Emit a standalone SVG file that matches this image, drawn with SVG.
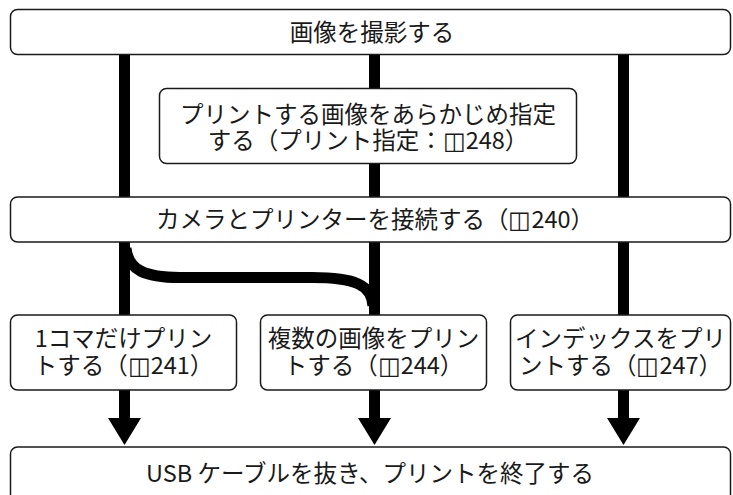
<svg xmlns="http://www.w3.org/2000/svg" width="733" height="495" viewBox="0 0 733 495">
<style>
.box{fill:#fff;stroke:#1a1a1a;stroke-width:1.5}
.bar{fill:none;stroke:#000;stroke-width:11}
.head{fill:#000}
text{font-family:"Noto Sans CJK JP","Noto Sans",sans-serif;font-size:23.5px;fill:#1a1a1a;text-anchor:middle}
</style>
<rect width="733" height="495" fill="#fff"/>
<g id="connectors">
<line class="bar" x1="124.5" y1="54" x2="124.5" y2="419"/>
<line class="bar" x1="374.5" y1="54" x2="374.5" y2="419"/>
<line class="bar" x1="623.5" y1="54" x2="623.5" y2="419"/>
<path class="bar" d="M126,248 C128,270 145,277.5 180,277.5 L312,277.5 C355,277.5 372,285 373,306"/>
<polygon class="head" points="108,418 141,418 124.5,445"/>
<polygon class="head" points="358,418 391,418 374.5,445"/>
<polygon class="head" points="607,418 640,418 623.5,445"/>
</g>
<g id="n1"><rect class="box" x="10.5" y="9.5" width="720" height="45" rx="7"/><text x="372" y="41">画像を撮影する</text></g>
<g id="n2"><rect class="box" x="159.5" y="88.5" width="417" height="75" rx="7"/><text x="368" y="123">プリントする画像をあらかじめ指定</text><text x="368" y="149">する（プリント指定：◫248）</text></g>
<g id="n3"><rect class="box" x="10.5" y="197" width="720" height="45" rx="7"/><text x="375" y="228">カメラとプリンターを接続する（◫240）</text></g>
<g id="n4"><rect class="box" x="10.5" y="315" width="226" height="75" rx="7"/><text x="123.5" y="347">1コマだけプリン</text><text x="123.5" y="374">トする（◫241）</text></g>
<g id="n5"><rect class="box" x="260.5" y="315" width="226" height="75" rx="7"/><text x="373.5" y="347">複数の画像をプリン</text><text x="373.5" y="374">トする（◫244）</text></g>
<g id="n6"><rect class="box" x="510.5" y="315" width="220" height="75" rx="7"/><text x="620.5" y="347">インデックスをプリ</text><text x="620.5" y="374">ントする（◫247）</text></g>
<g id="n7"><rect class="box" x="10.5" y="447" width="720" height="60" rx="7"/><text x="370" y="482">USB ケーブルを抜き、プリントを終了する</text></g>
</svg>
